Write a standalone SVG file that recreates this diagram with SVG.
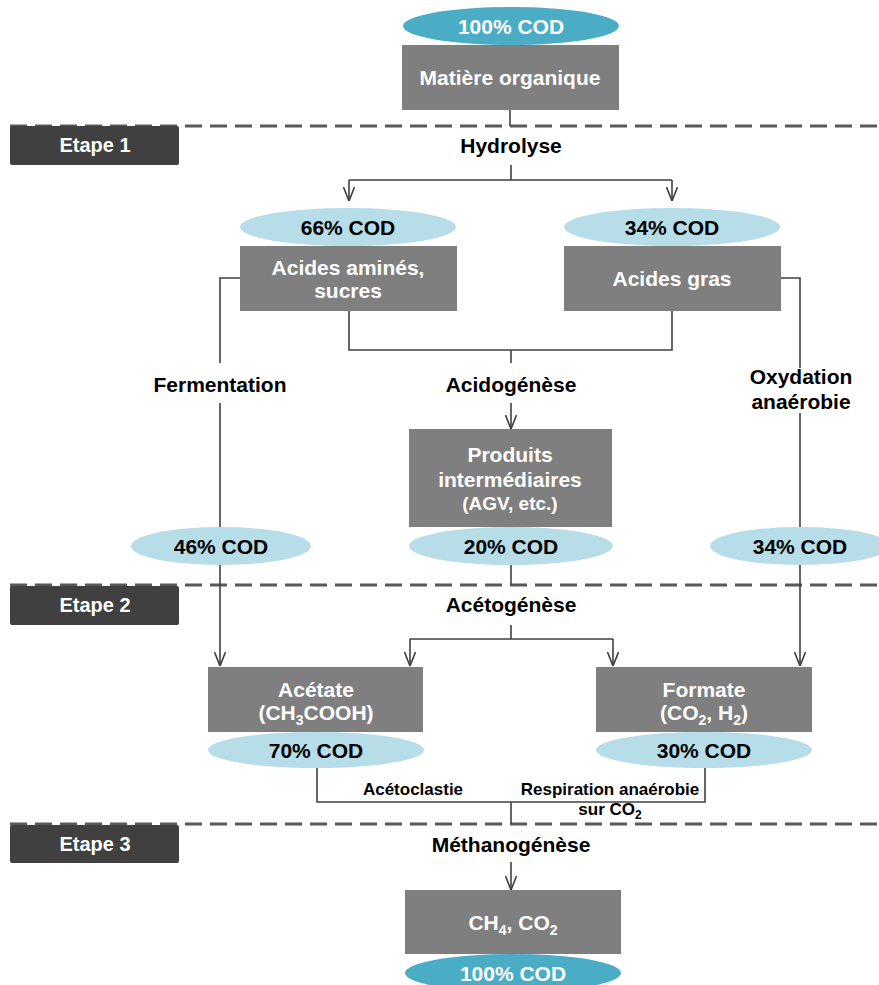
<svg xmlns="http://www.w3.org/2000/svg" width="879" height="985" viewBox="0 0 879 985">
<style>
text{font-family:"Liberation Sans",Arial,sans-serif;font-weight:bold;text-anchor:middle}
.w{fill:#ffffff;font-size:21px}
.k{fill:#000000;font-size:21px}
.s{fill:#000000;font-size:17px}
.et{fill:#ffffff;font-size:20px}
.box{fill:#7f7f7f}
.step{fill:#404040}
.dk{fill:#4bacc6}
.lt{fill:#b7dde8}
.ln{fill:none;stroke:#404040;stroke-width:1.6}
.dash{fill:none;stroke:#595959;stroke-width:3;stroke-dasharray:17 8}
</style>
<defs>
<marker id="arr" viewBox="0 0 14 12" refX="14" refY="6" markerWidth="14" markerHeight="12" markerUnits="userSpaceOnUse" orient="auto">
<path d="M0,0.5 L14,6 L0,11.5" fill="none" stroke="#404040" stroke-width="1.6"/>
</marker>
</defs>
<g id="separators">
<line class="dash" x1="10" y1="126" x2="879" y2="126"/>
<line class="dash" x1="10" y1="585" x2="879" y2="585"/>
<line class="dash" x1="10" y1="824" x2="879" y2="824"/>
</g>
<g id="connectors">
<path class="ln" d="M510,110 V126"/>
<path class="ln" d="M511,165 V180 M349,180 H672"/>
<path class="ln" d="M349,180 V201" marker-end="url(#arr)"/>
<path class="ln" d="M672,180 V201" marker-end="url(#arr)"/>
<path class="ln" d="M240,278 H220 V363"/>
<path class="ln" d="M220,403 V666" marker-end="url(#arr)"/>
<path class="ln" d="M781,278 H800 V368"/>
<path class="ln" d="M800,413 V666" marker-end="url(#arr)"/>
<path class="ln" d="M349,311 V350 H672 V311 M511,350 V363"/>
<path class="ln" d="M511,403 V429" marker-end="url(#arr)"/>
<path class="ln" d="M511,564 V585"/>
<path class="ln" d="M511,625 V639 M410,639 H613"/>
<path class="ln" d="M410,639 V666" marker-end="url(#arr)"/>
<path class="ln" d="M613,639 V666" marker-end="url(#arr)"/>
<path class="ln" d="M317,768 V802 H705 V768 M511,802 V824"/>
<path class="ln" d="M511,862 V890" marker-end="url(#arr)"/>
</g>
<g id="etape1"><rect class="step" x="10" y="126" width="169" height="39" rx="2"/><text class="et" x="95" y="152">Etape 1</text></g>
<g id="etape2"><rect class="step" x="10" y="586" width="169" height="39" rx="2"/><text class="et" x="95" y="612">Etape 2</text></g>
<g id="etape3"><rect class="step" x="10" y="825" width="169" height="38" rx="2"/><text class="et" x="95" y="851">Etape 3</text></g>
<g id="cod-top"><ellipse class="dk" cx="511" cy="26" rx="108" ry="19"/><text class="w" x="511" y="34">100% COD</text></g>
<g id="matiere"><rect class="box" x="402" y="45" width="217" height="65"/><text class="w" x="510" y="85">Matière organique</text></g>
<g id="hydrolyse"><text class="k" x="511" y="153">Hydrolyse</text></g>
<g id="cod66"><ellipse class="lt" cx="348" cy="227" rx="108" ry="19"/><text class="k" x="348" y="235">66% COD</text></g>
<g id="cod34a"><ellipse class="lt" cx="672" cy="227" rx="108" ry="19"/><text class="k" x="672" y="235">34% COD</text></g>
<g id="acides-amines"><rect class="box" x="240" y="246" width="217" height="65"/><text class="w" x="348" y="275">Acides aminés,</text><text class="w" x="348" y="298">sucres</text></g>
<g id="acides-gras"><rect class="box" x="564" y="246" width="217" height="65"/><text class="w" x="672" y="286">Acides gras</text></g>
<g id="fermentation"><text class="k" x="220" y="392">Fermentation</text></g>
<g id="acidogenese"><text class="k" x="511" y="392">Acidogénèse</text></g>
<g id="oxydation"><text class="k" x="801" y="384">Oxydation</text><text class="k" x="801" y="409">anaérobie</text></g>
<g id="produits"><rect class="box" x="409" y="429" width="203" height="98"/><text class="w" x="510" y="462">Produits</text><text class="w" x="510" y="487">intermédiaires</text><text class="w" x="510" y="510" style="font-size:19px">(AGV, etc.)</text></g>
<g id="cod46"><ellipse class="lt" cx="221" cy="546" rx="90" ry="19"/><text class="k" x="221" y="554">46% COD</text></g>
<g id="cod20"><ellipse class="lt" cx="511" cy="546" rx="102" ry="19"/><text class="k" x="511" y="554">20% COD</text></g>
<g id="cod34b"><ellipse class="lt" cx="800" cy="546" rx="90" ry="19"/><text class="k" x="800" y="554">34% COD</text></g>
<g id="acetogenese"><text class="k" x="511" y="612">Acétogénèse</text></g>
<g id="acetate"><rect class="box" x="208" y="667" width="215" height="65"/><text class="w" x="316" y="697">Acétate</text><text class="w" x="316" y="720">(CH<tspan style="font-size:14px" dy="5">3</tspan><tspan dy="-5">COOH)</tspan></text></g>
<g id="formate"><rect class="box" x="596" y="667" width="216" height="65"/><text class="w" x="704" y="697">Formate</text><text class="w" x="704" y="720">(CO<tspan style="font-size:14px" dy="5">2</tspan><tspan dy="-5">, H</tspan><tspan style="font-size:14px" dy="5">2</tspan><tspan dy="-5">)</tspan></text></g>
<g id="cod70"><ellipse class="lt" cx="316" cy="750" rx="108" ry="18"/><text class="k" x="316" y="758">70% COD</text></g>
<g id="cod30"><ellipse class="lt" cx="704" cy="750" rx="108" ry="18"/><text class="k" x="704" y="758">30% COD</text></g>
<g id="acetoclastie"><text class="s" x="413" y="795">Acétoclastie</text></g>
<g id="respiration"><text class="s" x="610" y="795">Respiration anaérobie</text><text class="s" x="610" y="815">sur CO<tspan style="font-size:12px" dy="4">2</tspan></text></g>
<g id="methanogenese"><text class="k" x="511" y="852">Méthanogénèse</text></g>
<g id="ch4"><rect class="box" x="405" y="890" width="216" height="64"/><text class="w" x="513" y="930">CH<tspan style="font-size:14px" dy="5">4</tspan><tspan dy="-5">, CO</tspan><tspan style="font-size:14px" dy="5">2</tspan></text></g>
<g id="cod-bottom"><ellipse class="dk" cx="513" cy="973" rx="108" ry="19"/><text class="w" x="513" y="981">100% COD</text></g>
</svg>
